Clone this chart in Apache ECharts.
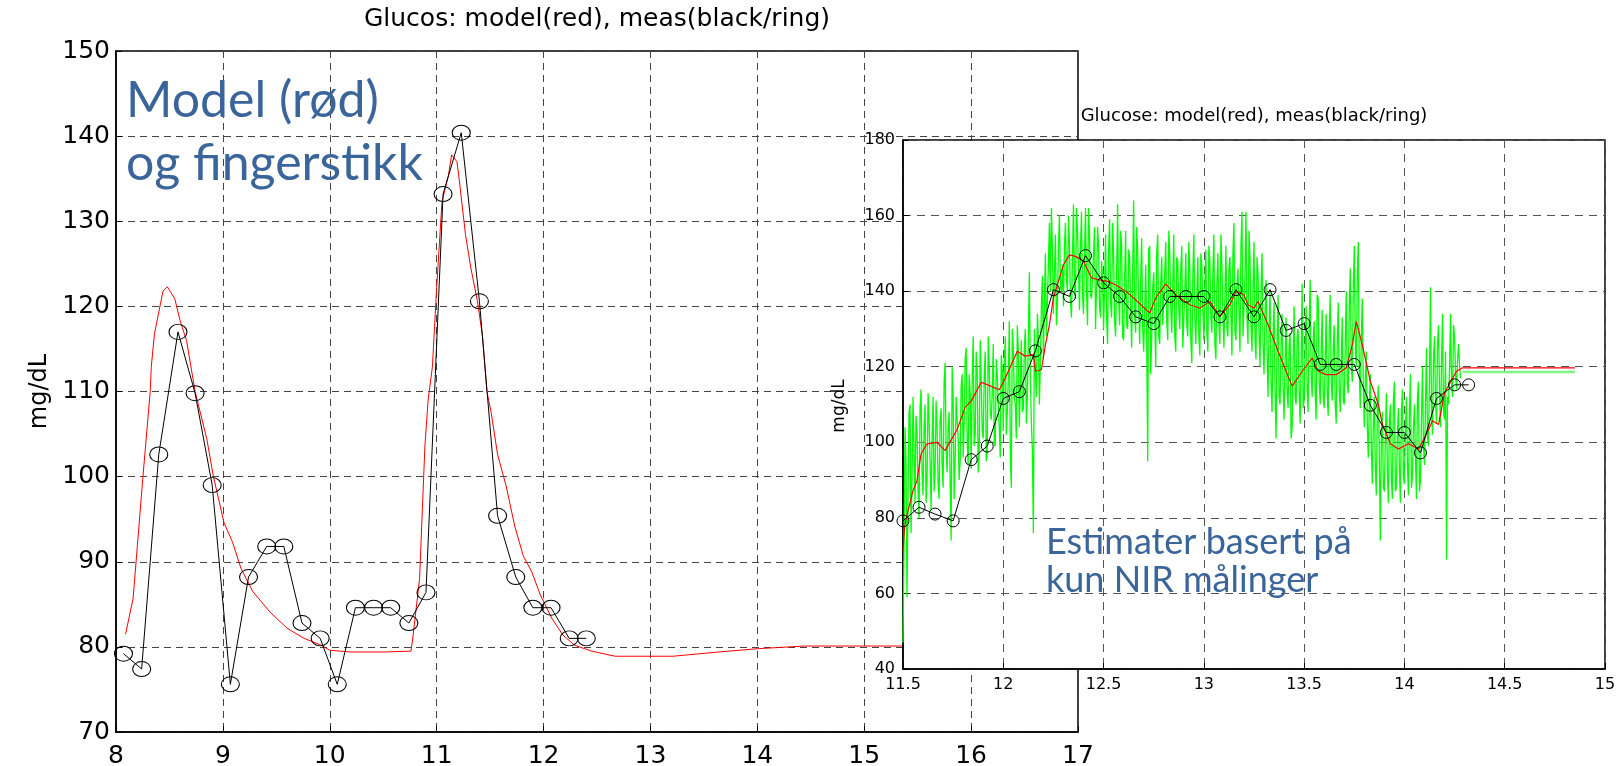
<!DOCTYPE html>
<html>
<head>
<meta charset="utf-8">
<script src="https://cdn.jsdelivr.net/npm/echarts@6/dist/echarts.min.js"></script>
<style>
  html, body { margin: 0; padding: 0; background: #fff; }
  #chart { width: 1624px; height: 766px; }
</style>
</head>
<body>
<div id="chart"></div>
<script>
// ---- Day chart: model (red) and finger-stick measurements (black rings), hours vs mg/dL
const fingerTime  = [8.07, 8.24, 8.40, 8.58, 8.74, 8.90, 9.07, 9.24, 9.41, 9.57, 9.74, 9.91, 10.07, 10.24,
                     10.41, 10.57, 10.74, 10.90, 11.06, 11.23, 11.40, 11.57, 11.74, 11.90, 12.07, 12.24, 12.40];
const fingerValue = [79.2, 77.4, 102.6, 117.0, 109.8, 99.0, 75.6, 88.2, 91.8, 91.8, 82.8, 81.0, 75.6, 84.6,
                     84.6, 84.6, 82.8, 86.4, 133.2, 140.4, 120.6, 95.4, 88.2, 84.6, 84.6, 81.0, 81.0];

const modelTime  = [8.09, 8.16, 8.20, 8.25, 8.32, 8.33, 8.36, 8.44, 8.48, 8.55, 8.60, 8.66, 8.74, 8.85, 8.91,
                    9.01, 9.09, 9.17, 9.28, 9.44, 9.60, 9.76, 9.92, 10.00, 10.19, 10.51, 10.76, 10.78, 10.84,
                    10.89, 10.92, 10.96, 11.00, 11.05, 11.11, 11.14, 11.19, 11.21, 11.27, 11.32, 11.38, 11.43,
                    11.47, 11.51, 11.57, 11.65, 11.73, 11.81, 11.89, 11.97, 12.08, 12.18, 12.29, 12.45, 12.67,
                    13.21, 13.64, 14.02, 14.45, 17.00];
const modelValue = [81.5, 85.7, 91.9, 99.7, 110.0, 112.9, 116.8, 121.8, 122.3, 120.9, 118.3, 116.0, 110.0, 104.4,
                    100.1, 94.6, 92.3, 89.2, 86.5, 84.1, 82.2, 81.0, 80.2, 79.6, 79.4, 79.4, 79.5, 81.4, 88.0,
                    103.6, 109.0, 112.9, 122.2, 132.3, 135.4, 137.8, 137.0, 135.0, 128.4, 124.5, 120.7, 116.4,
                    110.0, 107.5, 102.6, 98.9, 94.2, 90.7, 88.8, 86.1, 83.3, 81.4, 80.2, 79.5, 78.9,
                    78.9, 79.4, 79.8, 80.1, 80.1];

// ---- Inset: estimates from NIR measurements only
const nirMeasTime  = [11.50, 11.58, 11.66, 11.75, 11.84, 11.92, 12.00, 12.08, 12.16, 12.25, 12.33, 12.41,
                      12.50, 12.58, 12.66, 12.75, 12.83, 12.91, 13.00, 13.08, 13.16, 13.25, 13.33, 13.41,
                      13.50, 13.58, 13.66, 13.75, 13.83, 13.91, 14.00, 14.08, 14.16, 14.25, 14.32];
const nirMeasValue = [79.2, 82.8, 81.0, 79.2, 95.4, 99.0, 111.6, 113.4, 124.2, 140.4, 138.6, 149.4,
                      142.2, 138.6, 133.2, 131.4, 138.6, 138.6, 138.6, 133.2, 140.4, 133.2, 140.4, 129.6,
                      131.4, 120.6, 120.6, 120.6, 109.8, 102.6, 102.6, 97.2, 111.6, 115.2, 115.2];

const nirModelTime  = [11.50, 11.508, 11.515, 11.55, 11.57, 11.59, 11.62, 11.67, 11.71, 11.73, 11.77, 11.81,
                       11.84, 11.89, 11.94, 11.98, 12.01, 12.07, 12.11, 12.15, 12.16, 12.19, 12.21, 12.23,
                       12.25, 12.28, 12.30, 12.33, 12.36, 12.40, 12.44, 12.48, 12.52, 12.56, 12.61, 12.65,
                       12.73, 12.76, 12.81, 12.86, 12.93, 12.98, 13.03, 13.08, 13.13, 13.16, 13.20, 13.22,
                       13.25, 13.27, 13.32, 13.37, 13.41, 13.44, 13.49, 13.54, 13.57, 13.61, 13.66, 13.71,
                       13.74, 13.76, 13.79, 13.83, 13.87, 13.89, 13.93, 13.97, 14.02, 14.07, 14.11, 14.14,
                       14.17, 14.20, 14.26, 14.29, 14.85];
const nirModelValue = [71.4, 77.5, 79.7, 87.2, 89.9, 96.9, 99.6, 100.0, 97.8, 99.7, 103.4, 109.3,
                       110.9, 115.9, 114.8, 113.9, 117.0, 124.1, 122.8, 123.2, 118.8, 119.2, 125.8, 131.1,
                       138.2, 143.5, 147.0, 149.6, 149.2, 147.9, 143.5, 143.0, 142.6, 141.7, 140.0, 138.2,
                       134.2, 138.2, 141.9, 139.0, 136.4, 135.5, 137.3, 133.3, 136.4, 139.9, 139.0, 136.4,
                       135.5, 137.3, 131.1, 124.1, 118.8, 114.8, 118.8, 122.3, 118.8, 117.9, 117.9, 119.7,
                       125.8, 132.0, 125.8, 116.2, 110.0, 104.8, 99.6, 98.2, 99.6, 98.2, 102.2, 105.7,
                       104.7, 113.1, 118.8, 119.7, 119.7];

// Raw NIR estimate, samples every 0.005 h from 11.50 h:
// nirRawA holds the samples on whole 0.01 h steps, nirRawB the ones in between.
const nirStart = 11.50;
const nirStep = 0.01;
const nirRawA = [
  47, 104, 59, 108, 76, 112, 84, 103, 80, 114,
  86, 110, 90, 106, 82, 112, 92, 104, 85, 109,
  88, 121, 92, 108, 74, 112, 95, 106, 90, 115,
  96, 122, 100, 118, 93, 128, 102, 119, 97, 116,
  101, 124, 97, 120, 106, 126, 99, 118, 104, 123,
  103, 128, 108, 132, 88, 125, 110, 131, 104, 127,
  109, 130, 112, 145, 105, 76, 118, 134, 110, 136,
  122, 150, 128, 158, 162, 134, 155, 137, 160, 140,
  136, 158, 140, 152, 133, 163, 138, 156, 135, 161,
  134, 162, 131, 155, 138, 150, 130, 157, 136, 148,
  130, 155, 126, 159, 133, 150, 128, 163, 131, 152,
  127, 156, 130, 149, 125, 164, 129, 151, 126, 154,
  124, 147, 95, 152, 128, 145, 120, 155, 126, 149,
  131, 153, 127, 150, 129, 155, 124, 148, 130, 152,
  125, 150, 128, 146, 121, 155, 126, 149, 123, 147,
  127, 151, 124, 148, 129, 155, 122, 150, 126, 147,
  125, 152, 128, 149, 123, 158, 127, 146, 124, 161,
  128, 161, 126, 149, 124, 153, 122, 145, 120, 150,
  118, 143, 112, 140, 108, 137, 101, 139, 110, 134,
  106, 133, 109, 129, 104, 136, 110, 130, 105, 142,
  111, 136, 108, 143, 112, 132, 106, 138, 110, 135,
  109, 134, 107, 139, 111, 131, 105, 137, 108, 133,
  110, 140, 113, 146, 116, 152, 120, 153, 109, 138,
  104, 124, 96, 118, 89, 112, 86, 115, 74, 108,
  87, 113, 84, 110, 85, 116, 88, 109, 84, 114,
  89, 112, 86, 118, 91, 110, 85, 116, 90, 120,
  94, 125, 99, 141, 102, 128, 105, 131, 104, 134,
  106, 69, 110, 134, 112, 128, 114, 126, 117
];
const nirRawB = [
  72, 95, 85, 110, 90, 98, 107, 88, 109, 92,
  104, 84, 113, 95, 101, 87, 111, 89, 106, 94,
  116, 98, 104, 90, 120, 85, 112, 101, 95, 118,
  105, 125, 94, 113, 117, 99, 124, 92, 127, 103,
  118, 95, 128, 108, 113, 100, 122, 110, 96, 119,
  121, 102, 117, 97, 130, 112, 101, 124, 115, 108,
  125, 105, 128, 117, 98, 130, 112, 127, 121, 144,
  137, 128, 147, 140, 151, 145, 131, 152, 141, 147,
  152, 143, 160, 137, 149, 141, 162, 146, 152, 139,
  150, 140, 162, 139, 144, 157, 141, 152, 133, 143,
  141, 133, 151, 137, 158, 132, 144, 138, 156, 128,
  143, 131, 151, 137, 145, 133, 157, 136, 143, 130,
  135, 128, 151, 118, 141, 133, 150, 128, 142, 131,
  145, 132, 156, 136, 142, 128, 149, 135, 146, 125,
  140, 131, 153, 127, 144, 133, 139, 128, 150, 135,
  141, 129, 152, 133, 145, 126, 142, 131, 155, 134,
  139, 130, 146, 134, 150, 129, 141, 135, 152, 128,
  144, 133, 156, 131, 141, 127, 149, 129, 140, 126,
  134, 125, 130, 116, 128, 113, 127, 112, 126, 115,
  121, 113, 126, 101, 122, 112, 128, 114, 121, 109,
  125, 114, 131, 118, 127, 113, 139, 116, 124, 112,
  122, 113, 129, 116, 124, 110, 126, 114, 121, 111,
  126, 115, 136, 121, 141, 126, 144, 118, 128, 115,
  116, 104, 110, 98, 105, 93, 109, 95, 102, 88,
  101, 92, 105, 90, 111, 87, 102, 93, 108, 91,
  103, 94, 108, 88, 104, 96, 112, 87, 106, 99,
  110, 101, 117, 108, 122, 111, 126, 113, 121, 108,
  124, 112, 120, 116, 131, 118, 122, 120
];
// Held estimate after the last NIR sample
const nirHoldTime = [14.29, 14.85];
const nirHoldValue = [118.6, 118.6];

const mainXTicks = { min: 8, max: 17, interval: 1 };
const mainYTicks = { min: 70, max: 150, interval: 10 };
const insetXTicks = { min: 11.5, max: 15, interval: 0.5 };
const insetYTicks = { min: 40, max: 180, interval: 20 };

const zip = (xs, ys) => xs.map((x, i) => [x, ys[i]]);
const round3 = v => Math.round(v * 1000) / 1000;

// interleave the two sample sets into one time-ordered trace
const nirRawData = [];
nirRawA.forEach((v, i) => {
  nirRawData.push([round3(nirStart + i * nirStep), v]);
  if (i < nirRawB.length) nirRawData.push([round3(nirStart + (i + 0.5) * nirStep), nirRawB[i]]);
});

const MAIN = { left: 116, top: 51, right: 1078, bottom: 732 };
const INSET = { left: 903, top: 140, right: 1605, bottom: 669 };

const chartFont = 'DejaVu Sans';
const blue = '#3a659b';

function axisCommon(fontSize, margin, gridColor, dash, z) {
  return {
    z: z,
    axisLine: { show: true, onZero: false, lineStyle: { color: '#000', width: 1.5 } },
    axisTick: { show: true, inside: true, length: 6, lineStyle: { color: '#000', width: 1 } },
    axisLabel: { fontFamily: chartFont, fontSize: fontSize, color: '#000', margin: margin },
    splitLine: { show: true, lineStyle: { color: gridColor, type: dash, width: 1 } }
  };
}

const chart = echarts.init(document.getElementById('chart'), null, { renderer: 'canvas' });

chart.setOption({
  animation: false,
  backgroundColor: '#fff',
  grid: [
    { left: MAIN.left, top: MAIN.top, width: MAIN.right - MAIN.left, height: MAIN.bottom - MAIN.top,
      outerBoundsMode: 'none', containLabel: false,
      show: true, backgroundColor: '#fff', borderColor: '#000', borderWidth: 1.5, z: 0 },
    { left: INSET.left, top: INSET.top, width: INSET.right - INSET.left, height: INSET.bottom - INSET.top,
      outerBoundsMode: 'none', containLabel: false,
      show: true, backgroundColor: '#fff', borderColor: '#000', borderWidth: 1.5, z: 10 }
  ],
  xAxis: [
    Object.assign({ type: 'value', gridIndex: 0 }, mainXTicks, axisCommon(25, 12, '#444', [7, 5], 1)),
    Object.assign({ type: 'value', gridIndex: 1 }, insetXTicks, axisCommon(16, 8, '#555', [8, 6], 11))
  ],
  yAxis: [
    Object.assign({ type: 'value', gridIndex: 0 }, mainYTicks, axisCommon(25, 6, '#444', [7, 5], 1)),
    Object.assign({ type: 'value', gridIndex: 1 }, insetYTicks, axisCommon(16, 8, '#555', [8, 6], 11))
  ],
  series: [
    {
      name: 'model', type: 'line', xAxisIndex: 0, yAxisIndex: 0, z: 2, silent: true,
      data: zip(modelTime, modelValue), symbol: 'none',
      lineStyle: { color: '#ff0000', width: 1 }
    },
    {
      name: 'meas', type: 'line', xAxisIndex: 0, yAxisIndex: 0, z: 3, silent: true,
      data: zip(fingerTime, fingerValue), symbol: 'circle', symbolSize: [18, 15], showAllSymbol: true,
      itemStyle: { color: 'rgba(0,0,0,0)', borderColor: '#000', borderWidth: 1 },
      lineStyle: { color: '#000', width: 1 }
    },
    {
      name: 'NIR', type: 'line', xAxisIndex: 1, yAxisIndex: 1, z: 12, silent: true,
      data: nirRawData, symbol: 'none',
      lineStyle: { color: '#00ff00', width: 1.3 }
    },
    {
      name: 'NIR hold', type: 'line', xAxisIndex: 1, yAxisIndex: 1, z: 12, silent: true,
      data: zip(nirHoldTime, nirHoldValue), symbol: 'none',
      lineStyle: { color: '#7df77d', width: 2.5 }
    },
    {
      name: 'model (NIR)', type: 'line', xAxisIndex: 1, yAxisIndex: 1, z: 13, silent: true,
      data: zip(nirModelTime, nirModelValue), symbol: 'none',
      lineStyle: { color: '#ff0000', width: 1.2 }
    },
    {
      name: 'meas (NIR)', type: 'line', xAxisIndex: 1, yAxisIndex: 1, z: 14, silent: true,
      data: zip(nirMeasTime, nirMeasValue), symbol: 'circle', symbolSize: 12, showAllSymbol: true,
      itemStyle: { color: 'rgba(0,0,0,0)', borderColor: '#000', borderWidth: 1 },
      lineStyle: { color: '#000', width: 1 }
    }
  ],
  graphic: [
    { type: 'text', z: 50, x: (MAIN.left + MAIN.right) / 2, y: 19,
      style: { text: 'Glucos: model(red), meas(black/ring)', font: '25px "DejaVu Sans"', fill: '#000',
               textAlign: 'center', textVerticalAlign: 'middle' } },
    { type: 'text', z: 50, x: 40, y: (MAIN.top + MAIN.bottom) / 2, rotation: Math.PI / 2,
      style: { text: 'mg/dL', font: '24px "DejaVu Sans"', fill: '#000',
               textAlign: 'center', textVerticalAlign: 'middle' } },
    { type: 'text', z: 50, x: (INSET.left + INSET.right) / 2, y: 116,
      style: { text: 'Glucose: model(red), meas(black/ring)', font: '18px "DejaVu Sans"', fill: '#000',
               textAlign: 'center', textVerticalAlign: 'middle' } },
    { type: 'text', z: 50, x: 840, y: 406, rotation: Math.PI / 2,
      style: { text: 'mg/dL', font: '17px "DejaVu Sans"', fill: '#000',
               textAlign: 'center', textVerticalAlign: 'middle' } },
    { type: 'text', z: 50, x: 126, y: 101,
      style: { text: 'Model (rød)', font: '50px Lato', fill: blue, textAlign: 'left', textVerticalAlign: 'middle' } },
    { type: 'text', z: 50, x: 126, y: 164,
      style: { text: 'og fingerstikk', font: '50px Lato', fill: blue, textAlign: 'left', textVerticalAlign: 'middle' } },
    { type: 'text', z: 50, x: 1046, y: 542,
      style: { text: 'Estimater basert på', font: '36px Lato', fill: blue, textAlign: 'left', textVerticalAlign: 'middle' } },
    { type: 'text', z: 50, x: 1046, y: 580,
      style: { text: 'kun NIR målinger', font: '36px Lato', fill: blue, textAlign: 'left', textVerticalAlign: 'middle' } }
  ]
});
</script>
</body>
</html>
